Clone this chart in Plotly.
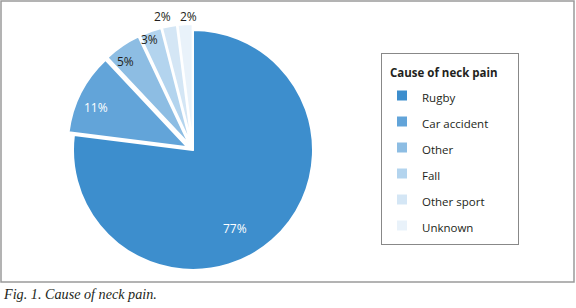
import math
import plotly.graph_objects as go

labels = ["Rugby", "Car accident", "Other", "Fall", "Other sport", "Unknown"]
values = [77, 11, 5, 3, 2, 2]
colors = ["#3d8ecd", "#62a4d9", "#8dbde3", "#b3d4ee", "#d4e6f5", "#e9f2fa"]
label_colors = ["#ffffff", "#ffffff", "#231f20", "#231f20", "#231f20", "#231f20"]
pulls = [0, 0.05, 0.05, 0.05, 0.05, 0.05]

W, H = 576, 308
FONT = "Open Sans"
CX, CY, R = 193, 150, 120          # pie centre / radius in pixels
half = R * (1 + max(pulls))
NB = "\u00a0"

fig = go.Figure()
fig.add_trace(go.Pie(
    labels=[f'<span style="font-size:11.5px">{l}</span>' for l in labels],
    values=values,
    sort=False,
    direction="clockwise",
    rotation=0,
    pull=pulls,
    marker=dict(colors=colors, line=dict(color="white", width=2)),
    textinfo="none",
    domain=dict(x=[(CX - half) / W, (CX + half) / W],
                y=[(H - CY - half) / H, (H - CY + half) / H]),
    hoverinfo="skip",
))

# value labels: placed on each slice's bisector (radius fraction, angle offset in degrees)
total = sum(values)
label_place = [(0.74, 13), (0.83, -3.4), (0.88, -3.4), (0.94, -2), (1.09, -2.4), (1.06, 1.6)]
annotations = []
cum = 0
for i, v in enumerate(values):
    mid_deg = (cum + v / 2) / total * 360
    cum += v
    frac, dang = label_place[i]
    ang = math.radians(mid_deg)
    cx = CX + pulls[i] * R * math.sin(ang)
    cy = CY - pulls[i] * R * math.cos(ang)
    a2 = math.radians(mid_deg + dang)
    px = cx + frac * R * math.sin(a2)
    py = cy - frac * R * math.cos(a2)
    annotations.append(dict(
        text=f"{v}%", xref="paper", yref="paper",
        x=px / W, y=1 - py / H,
        showarrow=False, xanchor="center", yanchor="middle",
        font=dict(family=FONT, size=12, color=label_colors[i])))

annotations.append(dict(
    text="<i>Fig. 1. Cause of neck pain.</i>", xref="paper", yref="paper",
    x=1 / W, y=1 - 284 / H, xanchor="left", yanchor="top", showarrow=False,
    font=dict(family="Liberation Serif", size=14.2, color="#231f20")))

fig.update_layout(
    width=W, height=H,
    margin=dict(l=0, r=0, t=0, b=0, autoexpand=False),
    paper_bgcolor="white",
    plot_bgcolor="white",
    showlegend=True,
    legend=dict(
        x=381 / W, y=(H - 53) / H, xanchor="left", yanchor="top",
        bordercolor="#888888", borderwidth=1,
        font=dict(family=FONT, size=17.7, color="#231f20"),
        title=dict(text=f'<span style="font-size:11.5px">{NB*2}<b>Cause of neck pain</b>{NB*6}</span>',
                   font=dict(family=FONT, size=18, color="#231f20")),
    ),
    shapes=[dict(type="rect", xref="paper", yref="paper",
                 x0=1 / W, x1=574 / W, y0=(H - 282) / H, y1=(H - 1) / H,
                 line=dict(color="#9a9a9a", width=1.5))],
    annotations=annotations,
)

fig.write_html("out.html", config={"displayModeBar": False},
               post_script="document.body.style.margin='0';")
